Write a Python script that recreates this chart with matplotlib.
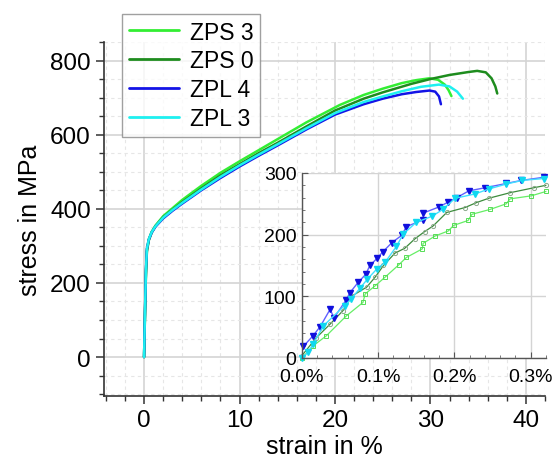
import matplotlib
matplotlib.use("Agg")
import matplotlib.pyplot as plt
from matplotlib.ticker import MultipleLocator, FuncFormatter

plt.rcParams['font.family'] = ['Liberation Sans', 'DejaVu Sans']

# ------------------------
# data: full stress-strain curves (strain in %, stress in MPa)
# ------------------------
names = ["ZPS 3", "ZPS 0", "ZPL 4", "ZPL 3"]
colors = ["#33ee33", "#1e8c1e", "#1414e6", "#1ef0f0"]

zps3_strain = [0, 0.1, 0.2, 0.3, 0.5, 0.8, 1.2, 2, 3, 4, 6, 8, 10, 12, 14, 17, 20.5, 23, 25, 27, 28.5, 29.9, 30.8, 31.5, 31.9, 32.2]
zps3_stress = [0, 120, 230, 290, 318, 338, 355, 380, 402, 424, 462, 497, 528, 558, 588, 633, 680, 707, 724, 739, 747, 752, 748, 735, 720, 704]

zps0_strain = [0, 0.1, 0.2, 0.3, 0.5, 0.8, 1.2, 2, 3, 4, 6, 8, 10, 12, 14, 17, 20, 23, 25, 28, 30, 32, 34, 34.9, 35.8, 36.4, 36.8, 37.0]
zps0_stress = [0, 115, 225, 285, 315, 336, 353, 377, 398, 418, 455, 490, 520, 550, 578, 622, 665, 697, 714, 737, 750, 761, 769, 772, 768, 752, 730, 711]

zpl4_strain = [0, 0.1, 0.2, 0.3, 0.5, 0.8, 1.2, 2, 3, 4, 6, 8, 10, 12, 14, 17, 20, 23, 25, 27, 28.5, 29.9, 30.5, 30.9, 31.1]
zpl4_stress = [0, 128, 238, 293, 317, 336, 352, 374, 395, 414, 450, 483, 514, 543, 571, 614, 654, 682, 697, 709, 715, 719, 716, 703, 682]

zpl3_strain = [0, 0.1, 0.2, 0.3, 0.5, 0.8, 1.2, 2, 3, 4, 6, 8, 10, 12, 14, 17, 20, 23, 25, 27, 29, 30.9, 32, 32.8, 33.4]
zpl3_stress = [0, 125, 235, 292, 318, 337, 353, 376, 397, 416, 452, 486, 517, 546, 574, 617, 658, 688, 703, 717, 729, 735, 730, 716, 697]

# ------------------------
# data: inset, first 0.32 % of strain
# ------------------------
in_zps3_strain = [0.0, 0.015, 0.032, 0.058, 0.080, 0.083, 0.096, 0.109, 0.127, 0.137, 0.158, 0.159, 0.175, 0.192, 0.199, 0.218, 0.223, 0.247, 0.268, 0.273, 0.301, 0.320]
in_zps3_stress = [0, 20, 36, 68, 90, 104, 117, 131, 151, 163, 177, 186, 198, 206, 215, 223, 233, 241, 250, 258, 263, 270]

in_zps0_strain = [0.0, 0.019, 0.037, 0.054, 0.065, 0.085, 0.096, 0.107, 0.122, 0.135, 0.148, 0.161, 0.172, 0.190, 0.214, 0.229, 0.245, 0.273, 0.304, 0.320]
in_zps0_stress = [4, 33, 55, 77, 100, 115, 131, 150, 170, 178, 193, 205, 214, 236, 244, 252, 259, 268, 276, 280]

in_zpl4_strain = [0.002, 0.0145, 0.024, 0.037, 0.042, 0.058, 0.063, 0.074, 0.084, 0.089, 0.099, 0.106, 0.118, 0.131, 0.137, 0.159, 0.159, 0.180, 0.192, 0.203, 0.219, 0.240, 0.268, 0.288, 0.317]
in_zpl4_stress = [19, 36, 51, 79, 65, 94, 106, 123, 136, 150, 162, 172, 187, 199, 213, 224, 235, 245, 253, 260, 271, 276, 283, 288, 293]

in_zpl3_strain = [0.0, 0.008, 0.015, 0.028, 0.056, 0.065, 0.076, 0.086, 0.098, 0.109, 0.124, 0.133, 0.150, 0.171, 0.185, 0.201, 0.227, 0.245, 0.268, 0.289, 0.317]
in_zpl3_stress = [0, 9, 23, 52, 85, 96, 113, 128, 144, 155, 181, 201, 220, 230, 241, 259, 266, 274, 282, 288, 291]

main_x = [zps3_strain, zps0_strain, zpl4_strain, zpl3_strain]
main_y = [zps3_stress, zps0_stress, zpl4_stress, zpl3_stress]
ins_x = [in_zps3_strain, in_zps0_strain, in_zpl4_strain, in_zpl3_strain]
ins_y = [in_zps3_stress, in_zps0_stress, in_zpl4_stress, in_zpl3_stress]

# ------------------------
# main plot
# ------------------------
fig = plt.figure(figsize=(5.53, 4.64), dpi=100)
ax = fig.add_axes([0.188, 0.1444, 0.7975, 0.763])

for xs, ys, c, n in zip(main_x, main_y, colors, names):
    ax.plot(xs, ys, color=c, lw=1.8, label=n, solid_capstyle='round')

ax.set_xlim(-4.2, 42)
ax.set_ylim(-105, 850)
ax.xaxis.set_major_locator(MultipleLocator(10))
ax.xaxis.set_minor_locator(MultipleLocator(2))
ax.yaxis.set_major_locator(MultipleLocator(200))
ax.yaxis.set_minor_locator(MultipleLocator(50))
ax.grid(True, which='major', color='#d4d4d4', lw=1.2)
ax.grid(True, which='minor', color='#e6e6e6', lw=0.8, ls=(0, (3, 3)))
ax.set_axisbelow(True)
for s in ['top', 'right']:
    ax.spines[s].set_visible(False)
for s in ['left', 'bottom']:
    ax.spines[s].set_color('#333333')
    ax.spines[s].set_linewidth(1.2)
ax.tick_params(which='major', length=5.5, width=1.1, color='#333333', labelsize=17.5, direction='out', pad=4)
ax.tick_params(which='minor', length=3.5, width=1.0, color='#333333', direction='out')
ax.set_xlabel("strain in %", fontsize=18, labelpad=2)
ax.set_ylabel("stress in MPa", fontsize=18, labelpad=6)

leg = ax.legend(loc='upper left', bbox_to_anchor=(0.041, 1.08), fontsize=16.5, frameon=True,
                fancybox=False, edgecolor='#888888', handlelength=2.2, handletextpad=0.45,
                labelspacing=0.25, borderpad=0.3, borderaxespad=0)
leg.get_frame().set_linewidth(1.0)
for line in leg.get_lines():
    line.set_linewidth(2.0)

# ------------------------
# inset
# ------------------------
axi = fig.add_axes([0.546, 0.2263, 0.441, 0.3987])
axi.set_facecolor('white')

styles = [
    dict(color='#66ee66', lw=0.9, marker='s', ms=3, mfc='none', mec='#55dd55', mew=0.7),
    dict(color='#3c8c3c', lw=0.9, marker='o', ms=3, mfc='none', mec='#8aa88a', mew=0.7),
    dict(color='#6060ff', lw=1.0, marker='v', ms=5, mfc='#1010dd', mec='#1010dd'),
    dict(color='#40e0ff', lw=1.0, marker='v', ms=5, mfc='#10d8f0', mec='#10d8f0'),
]
for xs, ys, st in zip(ins_x, ins_y, styles):
    axi.plot(xs, ys, clip_on=False, **st)

axi.set_xlim(0, 0.32)
axi.set_ylim(0, 300)
axi.xaxis.set_major_locator(MultipleLocator(0.1))
axi.xaxis.set_minor_locator(MultipleLocator(0.02))
axi.yaxis.set_major_locator(MultipleLocator(100))
axi.yaxis.set_minor_locator(MultipleLocator(20))
axi.xaxis.set_major_formatter(FuncFormatter(lambda v, p: f"{v:.1f}%"))
axi.grid(True, which='major', color='#d4d4d4', lw=1.0)
axi.set_axisbelow(True)
for s in ['top', 'right']:
    axi.spines[s].set_visible(False)
for s in ['left', 'bottom']:
    axi.spines[s].set_color('#555555')
    axi.spines[s].set_linewidth(1.0)
axi.tick_params(which='major', length=4, width=0.8, color='#555555', labelsize=14, direction='in')
axi.tick_params(axis='x', which='major', pad=7)
axi.tick_params(axis='y', which='major', pad=4)
axi.tick_params(which='minor', length=2.5, width=0.7, color='#777777', direction='in')

fig.savefig("out.png", dpi=100)
